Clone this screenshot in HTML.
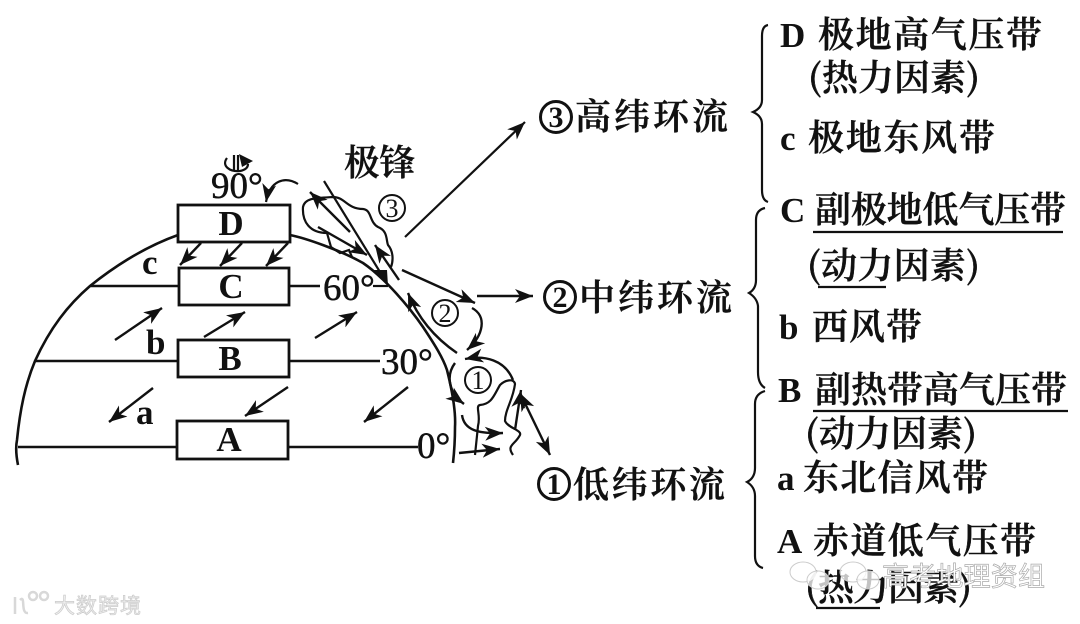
<!DOCTYPE html>
<html lang="zh"><head><meta charset="utf-8"><title>三圈环流</title>
<style>
html,body{margin:0;padding:0;background:#fff;width:1080px;height:624px;overflow:hidden}
svg{display:block}
.l{fill:none;stroke:#111;stroke-width:2.6}
.t{fill:none;stroke:#111;stroke-width:2.2}
.a{fill:none;stroke:#111;stroke-width:2.4;marker-end:url(#h)}
.b{fill:#fff;stroke:#111;stroke-width:2.8}
text{fill:#111;font-family:"Liberation Serif","Noto Serif CJK SC",serif}
.cn{font-family:"Noto Serif CJK SC","Liberation Serif",serif;font-size:36px;font-weight:600;stroke:#111;stroke-width:.4}
.lat{font-size:37px;stroke:#111;stroke-width:.5}
.big{font-size:35px;font-weight:700}
.n{font-size:26px;text-anchor:middle}
.nb{font-size:30px;font-weight:700;text-anchor:middle}
.r{fill:none;stroke:#111;stroke-width:2}
.rb{fill:none;stroke:#111;stroke-width:3}
.wm{font-family:"Noto Sans CJK SC",sans-serif;fill:#fff;stroke:#aaa;stroke-width:.7}
</style></head><body>
<svg width="1080" height="624" viewBox="0 0 1080 624" xmlns="http://www.w3.org/2000/svg">
<defs>
<marker id="h" markerUnits="userSpaceOnUse" markerWidth="22" markerHeight="16" refX="18" refY="7" orient="auto-start-reverse"><path d="M0 0L18 7L0 14L5 7Z" fill="#111"/></marker>
</defs>

<!-- globe arc -->
<path class="l" d="M18 465Q15 450 17 440C20 410 25 385 35 361C50 328 68 305 90 286C120 262 150 245 178 235M290 235C305 238 340 250 363 263C385 278 410 308 423 327C435 345 443 358 447 370C452 390 456 410 455 427Q455 445 453 463"/>
<!-- latitude lines -->
<path class="l" d="M90 286H179M289 286H320M35 361H178M289 361H380M18 447H177M288 447H418"/>
<path class="t" d="M373 286H388"/>
<!-- boxes -->
<rect class="b" x="178" y="205" width="112" height="37"/>
<rect class="b" x="179" y="268" width="110" height="37"/>
<rect class="b" x="178" y="340" width="111" height="37"/>
<rect class="b" x="177" y="421" width="111" height="38"/>
<text class="big" x="231" y="235" text-anchor="middle">D</text>
<text class="big" x="231" y="298" text-anchor="middle">C</text>
<text class="big" x="230" y="370" text-anchor="middle">B</text>
<text class="big" x="229" y="451" text-anchor="middle">A</text>
<text class="big" x="142" y="274">c</text>
<text class="big" x="146" y="354">b</text>
<text class="big" x="136" y="424">a</text>
<text class="lat" x="211" y="198">90°</text>
<text class="lat" x="323" y="300">60°</text>
<text class="lat" x="381" y="374">30°</text>
<text class="lat" x="417" y="458">0°</text>

<!-- rotation symbol -->
<path class="t" d="M234 155V170M238 155V170M227 158C221 166 230 172 240 171C245 170 248 168 248 164"/>
<path d="M239 154L253 161L242 167Z" fill="#111"/>
<path class="a" d="M298 184C285 176 270 180 266 202" style="stroke-width:2.2"/>

<!-- wind arrows -->
<path class="a" d="M201 243L180 265"/>
<path class="a" d="M242 243L220 266"/>
<path class="a" d="M288 243L266 266"/>
<path class="a" d="M115 340L162 308"/>
<path class="a" d="M204 337L245 312"/>
<path class="a" d="M315 338L357 312"/>
<path class="a" d="M153 388L109 422"/>
<path class="a" d="M288 387L245 416"/>
<path class="a" d="M408 387L364 422"/>
<path class="a" d="M405 237L525 122" style="stroke-width:2.2"/>
<path class="a" d="M477 296H533"/>
<path class="a" d="M520 393L550 455" style="marker-start:url(#h)"/>

<!-- polar front + cell 3 -->
<path class="t" d="M324 181L388 285"/>
<path class="a" d="M350 232L310 192"/>
<path class="a" d="M318 227L367 255"/>
<path class="a" d="M399 280L375 245"/>
<path d="M372 270L388 286L387 270Z" fill="#111"/>
<path class="t" d="M327 233C310 233 302 222 303 207C305 198 315 198 333 197C345 197 347 209 363 209C372 210 369 222 378 227C388 231 386 240 388 245C394 252 393 262 391 267M327 233L331 247L340 253L349 250L352 257"/>
<!-- cell 2 -->
<path class="a" d="M402 270L475 303"/>
<path class="a" d="M457 353C435 338 418 318 408 293"/>
<path class="a" d="M472 308C487 316 484 335 467 350"/>
<!-- cell 1 -->
<path class="a" d="M513 380C505 360 485 355 465 359"/>
<path class="a" d="M455 363C446 375 448 392 464 404"/>
<path class="a" d="M462 415C464 430 478 434 503 433"/>
<path class="a" d="M459 453L500 449"/>
<path class="a" d="M515 430L521 390"/>
<path class="t" d="M475 455L478 426C481 415 475 406 480 405C492 404 494 395 500 385C505 380 514 378 515 384C513 400 505 410 505 421C508 428 522 430 520 435C515 445 506 445 513 455"/>

<circle class="r" cx="392" cy="208" r="13"/><text class="n" x="392" y="217">3</text>
<circle class="r" cx="445" cy="313" r="13"/><text class="n" x="445" y="322">2</text>
<circle class="r" cx="478" cy="380" r="13"/><text class="n" x="478" y="389">1</text>
<text class="cn" x="344" y="175" textLength="71" lengthAdjust="spacingAndGlyphs">极锋</text>

<!-- circulation labels -->
<circle class="rb" cx="556" cy="117" r="15.5"/><text class="nb" x="556" y="127">3</text>
<text class="cn" x="575" y="129" textLength="153">高纬环流</text>
<circle class="rb" cx="560" cy="297" r="15.5"/><text class="nb" x="560" y="307">2</text>
<text class="cn" x="579" y="310" textLength="153">中纬环流</text>
<circle class="rb" cx="554" cy="484" r="15.5"/><text class="nb" x="554" y="494">1</text>
<text class="cn" x="573" y="497" textLength="152">低纬环流</text>

<!-- braces -->
<path class="t" d="M768 25Q762 26 762 36V100Q762 108 753 112Q762 116 762 124V190Q762 200 768 202"/>
<path class="t" d="M765 208Q756 210 756 220V280Q756 289 749 293Q757 298 758 306V372Q758 384 765 388"/>
<path class="t" d="M765 391Q755 394 755 404V468Q755 478 747 482Q755 487 755 496V556Q755 566 763 568"/>

<!-- right column -->
<text class="big" x="780" y="47">D</text>
<text class="cn" x="818" y="47" textLength="224">极地高气压带</text>
<text class="cn" x="808" y="90" textLength="172">(热力因素)</text>
<text class="big" x="780" y="150">c</text>
<text class="cn" x="808" y="150" textLength="187">极地东风带</text>
<text class="big" x="780" y="222">C</text>
<text class="cn" x="815" y="222" textLength="251">副极地低气压带</text>
<path class="t" d="M813 232H1063"/>
<text class="cn" x="807" y="278" textLength="173">(动力因素)</text>
<path class="t" d="M818 287H886"/>
<text class="big" x="779" y="339">b</text>
<text class="cn" x="812" y="339" textLength="110">西风带</text>
<text class="big" x="778" y="402">B</text>
<text class="cn" x="815" y="402" textLength="252">副热带高气压带</text>
<path class="t" d="M813 411H1068"/>
<text class="cn" x="805" y="446" textLength="172">(动力因素)</text>
<text class="big" x="777" y="490">a</text>
<text class="cn" x="803" y="490" textLength="185">东北信风带</text>
<text class="big" x="777" y="553">A</text>
<text class="cn" x="813" y="553" textLength="223">赤道低气压带</text>
<text class="cn" x="805" y="600" textLength="167">(热力因素)</text>
<path class="t" d="M816 608H880"/>

<!-- watermarks -->
<g fill="#fff" fill-opacity=".75" stroke="#ccc" stroke-width="1">
<ellipse cx="803" cy="572" rx="13" ry="10"/><ellipse cx="818" cy="580" rx="11" ry="9"/>
<ellipse cx="853" cy="572" rx="13" ry="10"/><ellipse cx="868" cy="580" rx="11" ry="9"/>
</g>
<text class="wm" x="882" y="586" font-size="27" textLength="163">高考地理资组</text>
<g fill="none" stroke="#d8d8d8" stroke-width="2.5">
<path d="M15 597V614M20 600C26 594 20 614 28 613"/>
<circle cx="33" cy="596" r="4"/><circle cx="44" cy="596" r="4"/>
</g>
<text class="wm" x="54" y="613" font-size="21" textLength="87" style="fill:#eee;stroke:#ccc">大数跨境</text>
</svg>
</body></html>
